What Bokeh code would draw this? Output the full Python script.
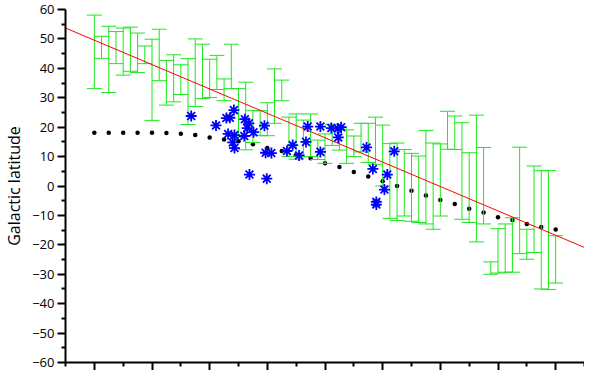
from bokeh.plotting import figure
from bokeh.models import Range1d, FixedTicker
from bokeh.embed import file_html
from bokeh.resources import INLINE

# ---- data ----
dot_x = [1.0, 1.25, 1.5, 1.75, 2.0, 2.25, 2.5, 2.75, 3.0, 3.25, 3.5, 3.75, 4.0, 4.25, 4.5, 4.75,
         5.0, 5.25, 5.5, 5.75, 6.0, 6.25, 6.5, 6.75, 7.0, 7.25, 7.5, 7.75, 8.0, 8.25, 8.5, 8.75, 9.0]
dot_y = [18.1, 18.1, 18.1, 18.1, 18.1, 18.0, 17.8, 17.3, 16.5, 15.8, 15.2, 14.2, 12.9, 11.9, 10.6, 9.4,
         7.7, 6.5, 4.8, 3.2, 1.6, 0.0, -1.6, -3.2, -4.8, -6.1, -7.7, -9.0, -10.6, -11.6, -12.9, -13.9, -14.8]

bar_x = [1.0, 1.125, 1.25, 1.375, 1.5, 1.625, 1.75, 1.875, 2.0, 2.125, 2.25, 2.375, 2.5, 2.625, 2.75, 2.875,
         3.0, 3.125, 3.25, 3.375, 3.5, 3.625, 3.75, 3.875, 4.0, 4.125, 4.25, 4.375, 4.5, 4.625, 4.75, 4.875,
         5.0, 5.125, 5.25, 5.375, 5.5, 5.625, 5.75, 5.875, 6.0, 6.125, 6.25, 6.375, 6.5, 6.625, 6.75, 6.875,
         7.0, 7.125, 7.25, 7.375, 7.5, 7.625, 7.75, 7.875, 8.0, 8.125, 8.25, 8.375, 8.5, 8.625, 8.75, 8.875, 9.0]
bar_hi = [58.1, 50.9, 54.3, 52.5, 53.7, 54.0, 52.0, 47.6, 49.9, 53.3, 42.7, 44.6, 41.2, 43.3, 50.0, 48.2,
          43.1, 44.4, 36.4, 48.2, 33.1, 35.3, 25.6, 25.6, 28.3, 39.8, 36.0, 23.4, 24.5, 22.4, 24.5, 15.6,
          17.7, 21.0, 19.7, 19.1, 17.0, 21.3, 21.3, 23.4, 20.7, 14.4, 14.6, 12.4, 11.1, 10.2, 18.9, 14.6,
          14.3, 25.4, 23.8, 21.5, 11.3, 24.1, 13.1, -25.8, -14.5, -12.9, -10.8, 13.2, -14.7, 6.8, 5.2, 5.3, -16.9]
bar_lo = [33.1, 43.4, 31.8, 41.6, 37.7, 39.0, 38.6, 41.6, 22.3, 35.8, 27.5, 28.6, 31.1, 20.9, 27.0, 29.7,
          30.1, 32.8, 29.0, 33.1, 16.5, 12.3, 14.8, 17.1, 17.1, 21.3, 29.0, 10.0, 9.1, 10.0, 10.0, 9.0,
          7.7, 13.8, 12.2, 7.7, 10.0, 11.6, 8.0, 7.4, 0.0, -11.0, -11.7, -10.2, -12.0, -12.4, -12.9, -14.7,
          -10.2, 12.5, 12.4, -11.3, -12.4, -19.0, -12.9, -30.0, -29.6, -29.3, -29.3, -23.0, -24.9, -22.6, -35.0, -35.2, -33.0]

star_x = [2.68, 3.11, 3.42, 3.29, 3.35, 3.61, 3.68, 3.65, 3.32, 3.43, 3.60, 3.76, 3.95, 3.40, 3.43, 3.97,
          4.07, 3.69, 3.99, 4.34, 4.44, 4.55, 4.67, 4.70, 4.92, 4.92, 5.11, 5.22, 5.28, 5.23, 5.72, 5.83,
          6.08, 6.03, 5.89, 5.89, 6.20]
star_y = [23.8, 20.6, 25.8, 23.1, 23.2, 22.7, 21.3, 19.7, 17.7, 17.3, 17.0, 18.3, 20.5, 14.8, 12.9, 11.3,
          11.2, 3.9, 2.5, 11.9, 13.9, 10.4, 15.0, 20.2, 20.2, 11.6, 19.7, 19.5, 20.0, 16.5, 13.1, 5.8,
          3.9, -1.2, -5.4, -6.3, 11.8]

fit_slope = -8.29
fit_intercept = 57.85

x_ticks = [1, 2, 3, 4, 5, 6, 7, 8, 9]
x_minor = [0.5, 1.5, 2.5, 3.5, 4.5, 5.5, 6.5, 7.5, 8.5, 9.5]
y_ticks = [-60, -50, -40, -30, -20, -10, 0, 10, 20, 30, 40, 50, 60]
y_minor = [-55, -45, -35, -25, -15, -5, 5, 15, 25, 35, 45, 55]

x_lo, x_hi = 0.5, 9.5
green = "#1ee61e"

p = figure(width=584, height=370, x_range=Range1d(x_lo, x_hi), y_range=Range1d(-60, 60),
           output_backend="svg", toolbar_location=None,
           min_border_left=50, min_border_right=0, min_border_top=9, min_border_bottom=8)
p.outline_line_color = None
p.xgrid.visible = False
p.ygrid.visible = False
p.background_fill_color = "white"

# black dots
p.scatter(dot_x, dot_y, marker="circle", size=4.5, fill_color="black", line_color=None)

# green error bars
p.segment(x0=bar_x, y0=bar_lo, x1=bar_x, y1=bar_hi, line_color=green, line_width=1)
p.scatter(bar_x, bar_hi, marker="dash", size=15, line_color=green, line_width=1)
p.scatter(bar_x, bar_lo, marker="dash", size=15, line_color=green, line_width=1)

# red linear fit
fit_x = [x_lo, x_hi]
fit_y = [fit_intercept + fit_slope * v for v in fit_x]
p.line(fit_x, fit_y, line_color="#ff0000", line_width=1)

# blue asterisks
p.scatter(star_x, star_y, marker="asterisk", size=11, line_color="#0000ff", line_width=1.8)

# axes
for ax in (p.xaxis[0], p.yaxis[0]):
    ax.axis_line_width = 2
    ax.axis_line_color = "black"
    ax.major_tick_line_width = 2
    ax.minor_tick_line_width = 2
    ax.major_tick_out = 8
    ax.major_tick_in = 0
    ax.minor_tick_out = 4
    ax.minor_tick_in = 0

p.xaxis[0].ticker = FixedTicker(ticks=x_ticks, minor_ticks=x_minor)
p.xaxis[0].major_label_overrides = {t: "" for t in x_ticks}
p.xaxis[0].major_label_standoff = 0

p.yaxis[0].ticker = FixedTicker(ticks=y_ticks, minor_ticks=y_minor)
p.yaxis[0].major_label_text_font = "Open Sans"
p.yaxis[0].major_label_text_font_size = "13px"
p.yaxis[0].major_label_text_color = "black"
p.yaxis[0].major_label_standoff = 3
p.yaxis[0].axis_label = "Galactic latitude"
p.yaxis[0].axis_label_text_font = "Open Sans"
p.yaxis[0].axis_label_text_font_size = "16px"
p.yaxis[0].axis_label_text_font_style = "normal"
p.yaxis[0].axis_label_text_color = "black"
p.yaxis[0].axis_label_standoff = 4

open("out.html", "w").write(file_html(p, INLINE))
